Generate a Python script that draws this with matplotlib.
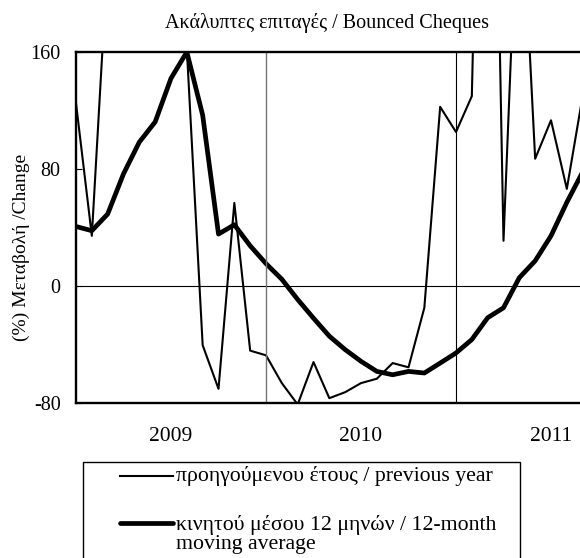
import matplotlib
matplotlib.use("Agg")
import matplotlib.pyplot as plt
from matplotlib.lines import Line2D
from matplotlib.patches import Rectangle

# Μηνιαία δεδομένα (μεταβολή %), τιμές πάνω από 160 κόβονται από τον άξονα
previous_year = [125, 34.3, 224, 260, 300, 280, 230, 162, -40.5, -70.3, 56.8,
                 -44.2, -47.4, -66.4, -81, -52, -76.7, -72.6, -66.4, -63.4,
                 -52.7, -55.6, -14.9, 122.5, 105.3, 129.8, 600, 30.9, 300, 87,
                 113.3, 66.4, 130]
moving_avg = [40.7, 37.8, 49.2, 76.7, 98.4, 112.2, 142, 160, 116.8, 35.5, 41.9,
              27.5, 15.3, 4.6, -9.2, -22, -34.3, -43.5, -51.5, -58.4, -60.7,
              -58.4, -59.5, -52.7, -45.8, -36.6, -21.7, -14.9, 5.7, 17.2, 34.3,
              57.2, 78]
years = ["2009", "2010", "2011"]
y_ticks = [-80, 0, 80, 160]

title = "Ακάλυπτες επιταγές / Bounced Cheques"
ylabel = "(%) Μεταβολή /Change"
label_prev = "προηγούμενου έτους / previous year"
label_avg_1 = "κινητού μέσου 12 μηνών / 12-month"
label_avg_2 = "moving average"

W, H = 580, 558
plt.rcParams['font.family'] = ['Liberation Serif', 'DejaVu Serif']


def fx(px):
    return px / W


def fy(py):
    return 1 - py / H


fig = plt.figure(figsize=(W / 100, H / 100), dpi=100)
# o άξονας συνεχίζει πέρα από τη δεξιά άκρη της εικόνας (κομμένο διάγραμμα)
ax = fig.add_axes([fx(76), fy(403), fx(646) - fx(76), fy(52) - fy(403)])

months = list(range(len(previous_year)))
ax.plot(months, previous_year, color='black', lw=1.5)
ax.plot(months, moving_avg, color='black', lw=3.4)

ax.axhline(0, color='black', lw=0.8)
ax.axvline(12, color='0.45', lw=1.0)
ax.axvline(24, color='black', lw=0.8)

ax.set_xlim(0, 36)
ax.set_ylim(-80, 160)
ax.set_yticks(y_ticks)
ax.set_yticklabels([str(v) for v in y_ticks])
ax.tick_params(axis='y', direction='in', length=4, width=0.8, pad=11,
               labelsize=14.5)
ax.set_xticks([])
ax.set_xticks([6, 18, 30], minor=True)
ax.set_xticklabels(years, minor=True)
ax.tick_params(axis='x', which='minor', length=0, pad=17, labelsize=15.5)
for side in ['left', 'top', 'bottom', 'right']:
    ax.spines[side].set_linewidth(1.7)

fig.text(fx(327), fy(23), title, ha='center', va='center', fontsize=14.5)
fig.text(fx(21), fy(247), ylabel, ha='center', va='center', rotation=90,
         fontsize=14)

# υπόμνημα σχεδιασμένο χειροκίνητα
fig.add_artist(Rectangle((fx(83), fy(580)), fx(520) - fx(83), fy(462) - fy(580),
                         transform=fig.transFigure, fill=False,
                         edgecolor='black', lw=1.0))
fig.add_artist(Line2D([fx(120), fx(173)], [fy(476), fy(476)],
                      transform=fig.transFigure, color='black', lw=1.5))
fig.add_artist(Line2D([fx(120), fx(173)], [fy(523), fy(523)],
                      transform=fig.transFigure, color='black', lw=3.4,
                      solid_capstyle='round'))
fig.text(fx(176), fy(476), label_prev, ha='left', va='center', fontsize=15.7)
fig.text(fx(176), fy(525), label_avg_1, ha='left', va='center', fontsize=15.7)
fig.text(fx(176), fy(545), label_avg_2, ha='left', va='center', fontsize=15.7)

fig.savefig("out.png", dpi=100)
